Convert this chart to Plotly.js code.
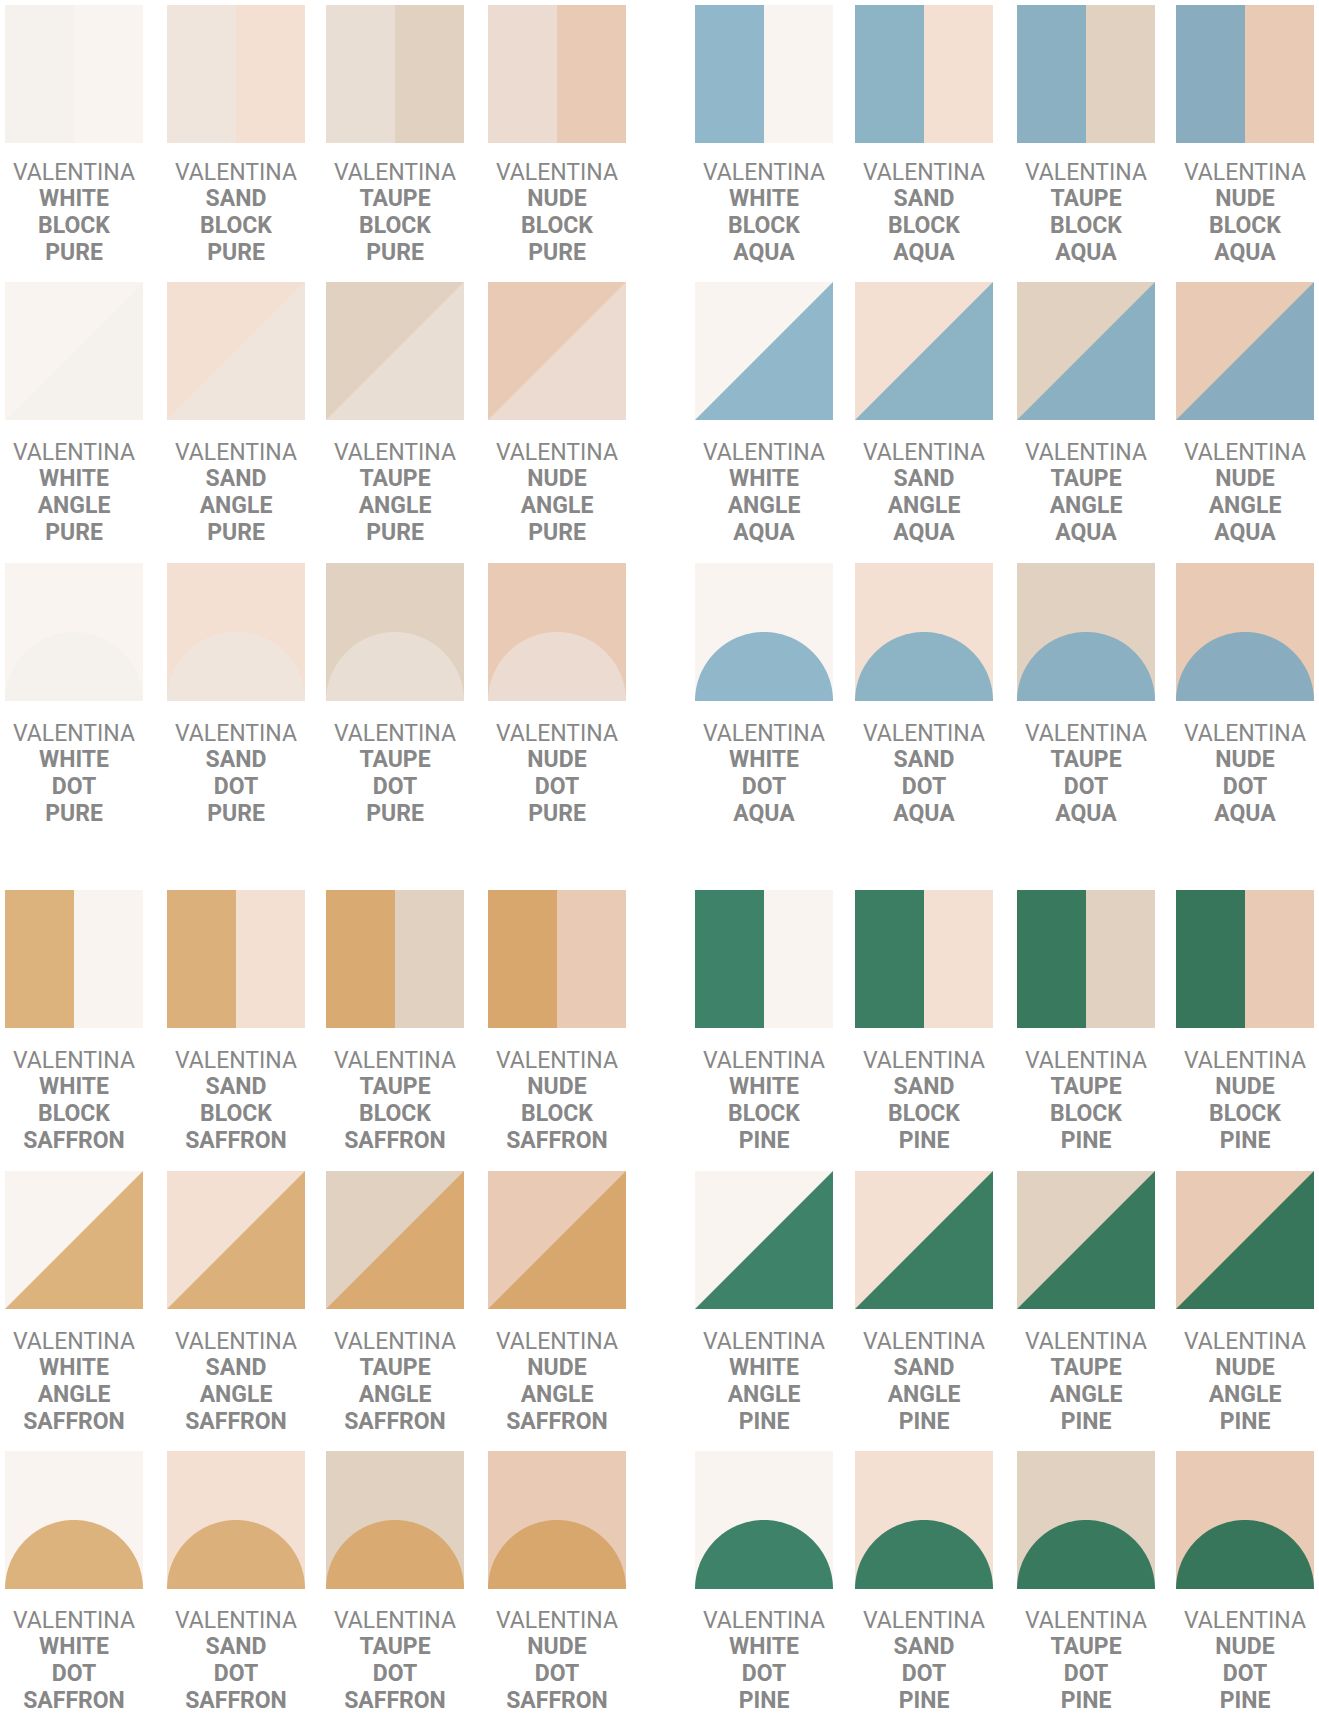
<!DOCTYPE html>
<html><head><meta charset="utf-8">
<script src="https://cdn.plot.ly/plotly-3.0.1.min.js"></script>
<style>html,body{margin:0;padding:0;background:#fff}#chart{width:1319px;height:1713px}</style>
</head><body><div id="chart"></div>
<script>
// ---- data ----
const brand = 'VALENTINA';
const bases = ['WHITE', 'SAND', 'TAUPE', 'NUDE'];
const patterns = ['BLOCK', 'ANGLE', 'DOT'];
const accents = ['PURE', 'AQUA', 'SAFFRON', 'PINE'];
const baseColors = ['#f9f4ef', '#f3e0d2', '#e0d1c1', '#e9cab5'];
const pureColors = ['#f5f1ed', '#f0e5dc', '#e8ded4', '#ecdbd0'];
const aquaColors = ['#90b8ca', '#8db4c5', '#8ab0c1', '#89adbe'];
const saffronColors = ['#ddb37d', '#dcb07a', '#d9ab73', '#d8a76e'];
const pineColors = ['#3e8369', '#3b7e64', '#397a5f', '#38765b'];

// ---- layout geometry ----
const accentTones = [pureColors, aquaColors, saffronColors, pineColors];
const colLeft = [5, 167, 326, 488, 695, 855, 1017, 1176];
const rowTop = [5, 282, 563, 890, 1171, 1451];
const rowTextOff = [31, 34, 34, 34, 34, 33];
const T = 138;
const lineGap = 26.7;

const shapes = [];
const lx = [], ly = [[], [], [], []];
const lt = [[], [], [], []];

function rect(x0, y0, x1, y1, c) {
  shapes.push({type: 'rect', xref: 'x', yref: 'y', x0, y0, x1, y1, fillcolor: c, line: {width: 0}, layer: 'below'});
}
function path(d, c) {
  shapes.push({type: 'path', xref: 'x', yref: 'y', path: d, fillcolor: c, line: {width: 0}, layer: 'below'});
}

accents.forEach((acc, a) => {
  const colGroup = a % 2, rowGroup = a >= 2 ? 3 : 0;
  patterns.forEach((pat, p) => {
    bases.forEach((b, i) => {
      const row = rowGroup + p;
      const L = colLeft[colGroup * 4 + i], Tp = rowTop[row];
      const R = L + T, B = Tp + T;
      const base = baseColors[i], ac = accentTones[a][i];
      rect(L, Tp, R, B, base);
      if (pat === 'BLOCK') {
        rect(L, Tp, L + T / 2, B, ac);
      } else if (pat === 'ANGLE') {
        path(`M${L},${B} L${R},${Tp} L${R},${B} Z`, ac);
      } else {
        const cx = L + T / 2, cy = B, r = T / 2;
        let d = '';
        for (let k = 0; k <= 72; k++) {
          const t = Math.PI - Math.PI * k / 72;
          const x = cx + r * Math.cos(t), y = cy - r * Math.sin(t);
          d += (k === 0 ? 'M' : 'L') + x.toFixed(2) + ',' + y.toFixed(2) + ' ';
        }
        path(d + 'Z', ac);
      }
      lx.push(L + T / 2);
      const words = [brand, b, pat, acc];
      words.forEach((w, k) => {
        ly[k].push(B + rowTextOff[row] + k * lineGap);
        lt[k].push(k === 0 ? w : '<b>' + w + '</b>');
      });
    });
  });
});

const traces = [0, 1, 2, 3].map(k => ({
  type: 'scatter', mode: 'text', x: lx, y: ly[k], text: lt[k],
  textposition: 'middle center', cliponaxis: false, hoverinfo: 'skip',
  textfont: {family: 'Roboto', size: 23, color: '#878787'}, showlegend: false
}));

Plotly.newPlot('chart', traces, {
  width: 1319, height: 1713,
  margin: {l: 0, r: 0, t: 0, b: 0},
  paper_bgcolor: '#ffffff', plot_bgcolor: '#ffffff',
  xaxis: {range: [0, 1319], visible: false, fixedrange: true},
  yaxis: {range: [1713, 0], visible: false, fixedrange: true},
  shapes: shapes, showlegend: false
}, {staticPlot: true, displayModeBar: false});
</script>
</body></html>
